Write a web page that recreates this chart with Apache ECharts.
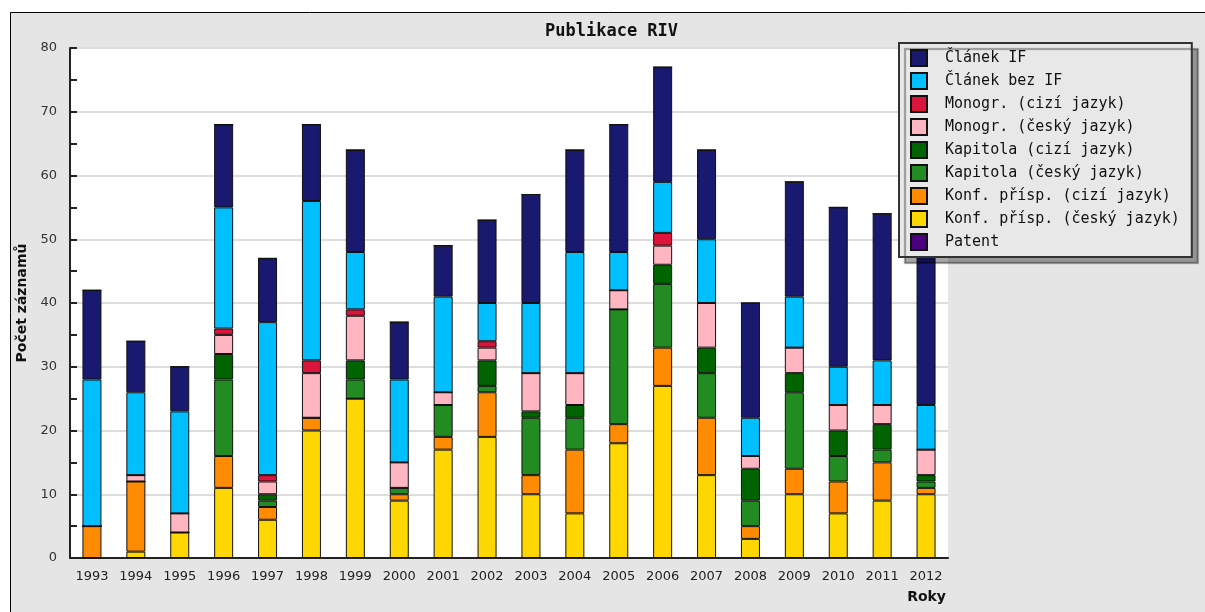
<!DOCTYPE html>
<html><head><meta charset="utf-8">
<script src="https://cdn.jsdelivr.net/npm/echarts@6/dist/echarts.min.js"></script>
<style>html,body{margin:0;padding:0;background:#fff;}#c{width:1205px;height:612px;}</style>
</head><body><div id="c"></div>
<script>
const years = ['1993','1994','1995','1996','1997','1998','1999','2000','2001','2002','2003','2004','2005','2006','2007','2008','2009','2010','2011','2012'];
const yTicks = [0,10,20,30,40,50,60,70,80];
// stacked bottom-up
const konfCesky   = [0,1,4,11,6,20,25,9,17,19,10,7,18,27,13,3,10,7,9,10];
const konfCizi    = [5,11,0,5,2,2,0,1,2,7,3,10,3,6,9,2,4,5,6,1];
const kapCesky    = [0,0,0,12,1,0,3,1,5,1,9,5,18,10,7,4,12,4,2,1];
const kapCizi     = [0,0,0,4,1,0,3,0,0,4,1,2,0,3,4,5,3,4,4,1];
const monoCesky   = [0,1,3,3,2,7,7,4,2,2,6,5,3,3,7,2,4,4,3,4];
const monoCizi    = [0,0,0,1,1,2,1,0,0,1,0,0,0,2,0,0,0,0,0,0];
const clanekBezIF = [23,13,16,19,24,25,9,13,15,6,11,19,6,8,10,6,8,6,7,7];
const clanekIF    = [14,8,7,13,10,12,16,9,8,13,17,16,20,18,14,18,18,25,23,26];
const patent      = [0,0,0,0,0,0,0,0,0,0,0,0,0,0,0,0,0,0,0,0];

const seriesDefs = [
  ['Konf. přísp. (český jazyk)', konfCesky, '#FFD700'],
  ['Konf. přísp. (cizí jazyk)', konfCizi, '#FF8C00'],
  ['Kapitola (český jazyk)', kapCesky, '#228B22'],
  ['Kapitola (cizí jazyk)', kapCizi, '#006400'],
  ['Monogr. (český jazyk)', monoCesky, '#FFB6C1'],
  ['Monogr. (cizí jazyk)', monoCizi, '#DC143C'],
  ['Článek bez IF', clanekBezIF, '#00BFFF'],
  ['Článek IF', clanekIF, '#191970'],
  ['Patent', patent, '#4B0082']
];
const legendOrder = ['Článek IF','Článek bez IF','Monogr. (cizí jazyk)','Monogr. (český jazyk)','Kapitola (cizí jazyk)','Kapitola (český jazyk)','Konf. přísp. (cizí jazyk)','Konf. přísp. (český jazyk)','Patent'];

const chart = echarts.init(document.getElementById('c'), null, {renderer:'canvas'});
chart.setOption({
  animation: false,
  backgroundColor: '#ffffff',
  graphic: [{
    type: 'rect', z: -10, silent: true,
    shape: {x: 10.5, y: 12.5, width: 1300, height: 700},
    style: {fill: '#e5e5e5', stroke: '#000', lineWidth: 1}
  }],
  title: {
    text: 'Publikace RIV', left: 545, top: 23, padding: 0,
    textStyle: {fontFamily: 'DejaVu Sans Mono', fontWeight: 'bold', fontSize: 17, color: '#111'}
  },
  legend: {
    data: legendOrder, orient: 'vertical', left: 899, top: 43,
    backgroundColor: '#e8e8e8', borderColor: '#333', borderWidth: 2,
    padding: [6, 12, 6, 11], itemGap: 5, itemWidth: 16, itemHeight: 16, icon: 'rect',
    shadowColor: 'rgba(0,0,0,0.35)', shadowBlur: 1, shadowOffsetX: 6, shadowOffsetY: 6,
    textStyle: {fontFamily: 'DejaVu Sans Mono', fontSize: 15, color: '#111', padding: [0,0,0,13]}
  },
  grid: {left: 70, right: 257, top: 48, bottom: 54, show: true, backgroundColor: '#fff', borderWidth: 0},
  xAxis: {
    type: 'category', data: years, boundaryGap: true,
    name: 'Roky', nameLocation: 'end', nameGap: -2,
    nameTextStyle: {fontFamily: 'DejaVu Sans', fontWeight: 'bold', fontSize: 14, color: '#111', align: 'right', verticalAlign: 'top', padding: [32,0,0,0]},
    axisLine: {lineStyle: {color: '#222', width: 2}},
    axisTick: {inside: true, length: 6, lineStyle: {color: '#222', width: 2}},
    axisLabel: {fontFamily: 'DejaVu Sans', fontSize: 13, color: '#222', margin: 12}
  },
  yAxis: {
    type: 'value', min: 0, max: 80, interval: 10,
    name: 'Počet záznamů', nameLocation: 'middle', nameGap: 40, nameRotate: 90,
    nameTextStyle: {fontFamily: 'DejaVu Sans', fontWeight: 'bold', fontSize: 14, color: '#111'},
    axisLine: {show: true, lineStyle: {color: '#222', width: 2}},
    axisTick: {show: true, inside: true, length: 7, lineStyle: {color: '#222', width: 2}},
    minorTick: {show: true, splitNumber: 2, length: 7, lineStyle: {color: '#222', width: 2}},
    splitLine: {lineStyle: {color: '#dddddd', width: 2}},
    axisLabel: {fontFamily: 'DejaVu Sans', fontSize: 13, color: '#333', margin: 13,
      formatter: v => yTicks.includes(v) ? String(v) : ''}
  },
  series: seriesDefs.map(([name, data, color]) => ({
    name, type: 'bar', stack: 'total', data, barWidth: 19,
    itemStyle: {color, borderColor: '#111', borderWidth: 1}
  }))
});
</script></body></html>
